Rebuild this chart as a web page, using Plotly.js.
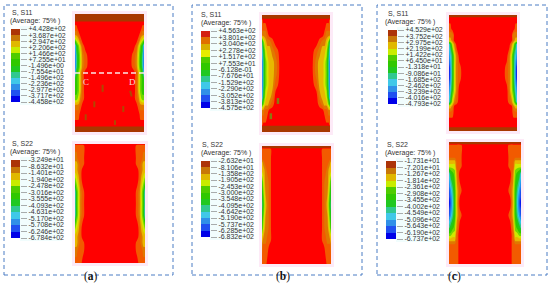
<!DOCTYPE html>
<html><head><meta charset="utf-8">
<script src="https://cdn.plot.ly/plotly-3.0.1.min.js"></script>
<style>html,body{margin:0;padding:0;background:#fff}#c{width:550px;height:292px}</style>
</head><body><div id="c"></div>
<script>
// half-width column positions (edge to interior); fields are read as symmetric about mid-width
const xHalf=[0,.02,.05,.08,.11,.15,.2,.27];

// band index per grid node: 0 deep blue ... 12 red, 13 brown
const aS11Y=[0,.055,.07,.12,.17,.22,.27,.35,.45,.5,.55,.65,.72,.78,.85,.945,.96,1];
const aS11Z=[
[13,13,13,13,13,13,13,13],[13,13,13,13,13,13,13,13],[12,12,12,12,12,12,12,12],
[11,11,12,12,12,12,12,12],[10,10,11,12,12,12,12,12],[7,8,9,11,12,12,12,12],
[2,5,7,9,11,12,12,12],[1,4,6,8,10,11,12,12],[1,4,6,8,10,11,12,12],
[2,5,7,9,11,12,12,12],[5,6,7,9,11,12,12,12],[6,6,7,9,11,12,12,12],
[7,7,8,10,11,12,12,12],[10,10,10,11,12,12,12,12],[11,11,11,12,12,12,12,12],
[12,12,12,12,12,12,12,12],[13,13,13,13,13,13,13,13],[13,13,13,13,13,13,13,13]];

const aS22Y=[0,.012,.12,.17,.22,.3,.4,.5,.6,.7,.78,.83,.9,1];
const aS22Z=[
[12,12,12,12,12,12,12,12],[11,11,11,11,11,12,12,12],[10,10,11,11,11,12,12,12],
[9,9,10,11,11,12,12,12],[9,9,10,11,12,12,12,12],[7,8,9,11,12,12,12,12],
[3,6,8,10,11,12,12,12],[3,6,8,10,11,12,12,12],[3,6,8,10,11,12,12,12],
[7,8,9,11,12,12,12,12],[9,9,10,11,12,12,12,12],[9,9,10,11,11,12,12,12],
[10,10,11,11,11,12,12,12],[11,11,11,11,12,12,12,12]];

const bS11Y=[0,.025,.04,.1,.17,.23,.3,.4,.5,.6,.7,.76,.82,.9,.94,.955,1];
const bS11Z=[
[13,13,13,13,13,13,13,13],[13,13,13,13,13,13,13,13],[11,12,12,12,12,12,12,12],
[11,11,11,12,12,12,12,12],[10,10,10,11,12,12,12,12],[4,7,9,10,10,11,12,12],
[3,5,8,9,9,10,11,12],[1,4,7,8,9,9,10,12],[1,4,7,8,9,9,10,12],
[1,4,7,8,9,9,11,12],[2,5,8,9,9,10,12,12],[5,7,9,9,10,11,12,12],
[10,10,11,11,12,12,12,12],[11,11,11,12,12,12,12,12],[11,12,12,12,12,12,12,12],
[13,13,13,13,13,13,13,13],[13,13,13,13,13,13,13,13]];

const bS22Y=[0,.012,.025,.1,.14,.2,.3,.5,.7,.8,.86,1];
const bS22Z=[
[13,13,13,13,13,13,13,13],[13,13,13,13,13,13,13,13],[11,11,11,11,11,12,12,12],
[11,11,11,11,11,12,12,12],[9,10,11,11,11,12,12,12],[9,9,10,11,11,12,12,12],
[6,8,10,10,11,12,12,12],[4,6,9,10,11,12,12,12],[6,8,10,10,11,12,12,12],
[9,10,10,11,11,12,12,12],[10,11,11,11,12,12,12,12],[11,11,11,12,12,12,12,12]];

const cS11Y=[0,.012,.025,.12,.17,.22,.25,.35,.45,.55,.65,.75,.79,.85,.92,.96,.975,1];
const cS11Z=[
[13,13,13,13,13,13,13,13],[13,13,13,13,13,13,13,13],[12,12,12,12,12,12,12,12],
[11,11,12,12,12,12,12,12],[10,10,10,12,12,12,12,12],[9,9,10,12,12,12,12,12],
[3,5,8,10,12,12,12,12],[2,3,5,8,10,12,12,12],[0,2,5,8,10,11,12,12],
[0,2,5,8,10,11,12,12],[2,3,6,8,10,12,12,12],[3,5,8,10,11,12,12,12],
[9,9,10,12,12,12,12,12],[11,11,11,12,12,12,12,12],[12,12,12,12,12,12,12,12],
[12,12,12,12,12,12,12,12],[13,13,13,13,13,13,13,13],[13,13,13,13,13,13,13,13]];

const cS22Y=[0,.012,.025,.12,.16,.2,.26,.4,.5,.6,.7,.76,.8,.85,1];
const cS22Z=[
[13,13,13,13,13,13,13,13],[13,13,13,13,13,13,13,13],[11,11,11,11,11,11,12,12],
[11,11,11,11,11,11,12,12],[9,9,9,9,11,11,12,12],[8,8,8,8,11,11,12,12],
[3,5,6,7,10,12,12,12],[1,2,4,6,9,11,12,12],[0,1,3,6,9,12,12,12],
[1,2,4,6,9,11,12,12],[4,5,6,7,10,12,12,12],[7,7,8,8,11,12,12,12],
[9,9,9,9,11,12,12,12],[11,11,11,11,11,12,12,12],[11,11,11,11,11,12,12,12]];

// legend labels, top to bottom
const aS11Labels=["+4.428e+02","+3.687e+02","+2.947e+02","+2.206e+02","+1.466e+02","+7.255e+01","-1.496e+00","-7.554e+01","-1.496e+02","-2.236e+02","-2.977e+02","-3.717e+02","-4.458e+02"];
const aS22Labels=["-3.249e+01","-8.632e+01","-1.401e+02","-1.940e+02","-2.478e+02","-3.016e+02","-3.555e+02","-4.093e+02","-4.631e+02","-5.170e+02","-5.708e+02","-6.246e+02","-6.784e+02"];
const bS11Labels=["+4.563e+02","+3.801e+02","+3.040e+02","+2.278e+02","+1.517e+02","+7.553e+01","-6.128e-01","-7.676e+01","-1.529e+02","-2.290e+02","-3.052e+02","-3.813e+02","-4.575e+02"];
const bS22Labels=["-2.632e+01","-8.106e+01","-1.358e+02","-1.905e+02","-2.453e+02","-3.000e+02","-3.548e+02","-4.095e+02","-4.642e+02","-5.190e+02","-5.737e+02","-6.285e+02","-6.832e+02"];
const cS11Labels=["+4.529e+02","+3.752e+02","+2.975e+02","+2.199e+02","+1.422e+02","+6.450e+01","-1.318e+01","-9.086e+01","-1.685e+02","-2.462e+02","-3.239e+02","-4.016e+02","-4.793e+02"];
const cS22Labels=["-1.731e+01","-7.201e+01","-1.267e+02","-1.814e+02","-2.361e+02","-2.908e+02","-3.455e+02","-4.002e+02","-4.549e+02","-5.096e+02","-5.643e+02","-6.190e+02","-6.737e+02"];

const fieldColors=['#0000f0','#1a50f0','#2090f0','#30c8e8','#30c890','#20c820','#30c800','#70d800','#d0e800','#e8b800','#e07800','#f25a00','#ff0000','#a83800'];
const legendColors=['#0000e8','#2050f0','#3090e8','#40c8e8','#30c890','#20c820','#30c800','#50cc00','#c8ec00','#e0b800','#c87808','#ac3408'];
const legendColorsB=['#0000e8','#2050f0','#3090e8','#40c8e8','#30c890','#20c820','#30c800','#50cc00','#e8ec00','#d8b000','#e07000','#d42010'];

// marks inside the fields
const sectionX=[0,1], sectionY=[.5,.5];
const aStreakX=[.40,.40,null,.28,.28,null,.155,.155,null,.70,.70,null,.80,.82,null,.58,.58];
const aStreakY=[.60,.66,null,.74,.79,null,.85,.90,null,.78,.83,null,.65,.70,null,.90,.94];
const bStreakX=[.235,.235,null,.13,.13];
const bStreakY=[.71,.76,null,.84,.89];

function stepScale(cols){const n=cols.length,o=[];cols.forEach((c,i)=>{o.push([i/n,c]);o.push([(i+1)/n,c]);});return o;}

const W=550,H=292;
const panels=[
 {y:aS11Y,z:aS11Z,box:[75,144,14,132],lab:aS11Labels,cols:legendColors,leg:[11,20,29,102],t:[11,13],a:[9,21],name:'S, S11'},
 {y:aS22Y,z:aS22Z,box:[75,145,144,263],lab:aS22Labels,cols:legendColors,leg:[11,20,160,238],t:[11,143.5],a:[9,152],name:'S, S22'},
 {y:bS11Y,z:bS11Z,box:[262,330,15,132],lab:bS11Labels,cols:legendColorsB,leg:[201,210,31,108],t:[200,14.5],a:[200,23],name:'S, S11'},
 {y:bS22Y,z:bS22Z,box:[262,331,146,264],lab:bS22Labels,cols:legendColors,leg:[201,210,161,237],t:[201,144],a:[200,153],name:'S, S22'},
 {y:cS11Y,z:cS11Z,box:[449,517,15,131],lab:cS11Labels,cols:legendColors,leg:[388,397,30,104],t:[387,14],a:[384,22],name:'S, S11'},
 {y:cS22Y,z:cS22Z,box:[449,521,142,264],lab:cS22Labels,cols:legendColors,leg:[386,396,161,239],t:[386,144],a:[384,153],name:'S, S22'}
];
const xFull=xHalf.concat(xHalf.slice().reverse().map(v=>1-v));
const data=[],layout={width:W,height:H,margin:{l:0,r:0,t:0,b:0},paper_bgcolor:'#fff',plot_bgcolor:'rgba(0,0,0,0)',showlegend:false,shapes:[],annotations:[],
  font:{family:'Liberation Sans, Arial, sans-serif',color:'#333'}};
const dx=p=>[p[0]/W,p[1]/W], dy=p=>[1-p[1]/H,1-p[0]/H];
const hide={visible:false,fixedrange:true};
let n=1;
panels.forEach(p=>{
  const fx=n; n++;
  const lx=n; n++;
  const sfx=fx===1?'':fx, sl=lx;
  data.push({type:'contour',x:xFull,y:p.y,z:p.z.map(r=>r.concat(r.slice().reverse())),zmin:-.5,zmax:13.5,autocontour:false,
    contours:{start:.5,end:12.5,size:1,coloring:'fill',showlines:false},line:{width:0,smoothing:1},
    colorscale:stepScale(fieldColors),showscale:false,hoverinfo:'skip',xaxis:'x'+sfx,yaxis:'y'+sfx});
  layout['xaxis'+sfx]=Object.assign({},hide,{domain:dx([p.box[0],p.box[1]]),range:[0,1],anchor:'y'+sfx});
  layout['yaxis'+sfx]=Object.assign({},hide,{domain:dy([p.box[2],p.box[3]]),range:[1,0],anchor:'x'+sfx});
  data.push({type:'heatmap',x:[0,1],y:[0,1,2,3,4,5,6,7,8,9,10,11,12],z:[[0],[1],[2],[3],[4],[5],[6],[7],[8],[9],[10],[11]],zmin:0,zmax:12,
    colorscale:stepScale(p.cols),showscale:false,hoverinfo:'skip',xaxis:'x'+sl,yaxis:'y'+sl});
  layout['xaxis'+sl]=Object.assign({},hide,{domain:dx([p.leg[0],p.leg[1]]),range:[0,1],anchor:'y'+sl});
  layout['yaxis'+sl]={fixedrange:true,domain:dy([p.leg[2],p.leg[3]]),range:[0,12],anchor:'x'+sl,side:'right',showgrid:false,zeroline:false,showline:false,
    tickmode:'array',tickvals:[12,11,10,9,8,7,6,5,4,3,2,1,0],ticktext:p.lab,ticks:'outside',ticklen:6,tickwidth:.6,tickcolor:'#777',
    tickfont:{size:7,family:'Liberation Sans, Arial, sans-serif',color:'#333'}};
  layout.annotations.push({xref:'paper',yref:'paper',x:p.t[0]/W,y:1-p.t[1]/H,xanchor:'left',yanchor:'middle',text:p.name,showarrow:false,borderpad:0,font:{size:7,color:'#333'}});
  layout.annotations.push({xref:'paper',yref:'paper',x:p.a[0]/W,y:1-p.a[1]/H,xanchor:'left',yanchor:'middle',text:'(Average: 75% )',showarrow:false,borderpad:0,font:{size:7,color:'#333'}});
  // pale halo behind each field
  layout.shapes.push({type:'rect',xref:'paper',yref:'paper',layer:'below',x0:(p.box[0]-3)/W,x1:(p.box[1]+3)/W,y0:1-(p.box[3]+3)/H,y1:1-(p.box[2]-3)/H,fillcolor:'#fdeaf7',line:{width:0}});
  layout.shapes.push({type:'rect',xref:'paper',yref:'paper',layer:'below',x0:(p.leg[1])/W,x1:(p.leg[1]+42)/W,y0:1-(p.leg[3]+3)/H,y1:1-(p.leg[2]-3)/H,fillcolor:'#f1fdfd',line:{width:0}});
});
// streaks and the section line
data.push({type:'scatter',mode:'lines',x:aStreakX,y:aStreakY,line:{color:'#b04800',width:2},hoverinfo:'skip',connectgaps:false,xaxis:'x',yaxis:'y'});
data.push({type:'scatter',mode:'lines',x:bStreakX,y:bStreakY,line:{color:'#8a7a10',width:2.5},hoverinfo:'skip',connectgaps:false,xaxis:'x5',yaxis:'y5'});
data.push({type:'scatter',mode:'lines',x:sectionX,y:sectionY,line:{color:'#fbe6e6',width:1.6,dash:'5px,3px'},hoverinfo:'skip',xaxis:'x',yaxis:'y'});
layout.annotations.push({xref:'x',yref:'y',x:.16,y:.575,text:'C',showarrow:false,font:{size:9,family:'Liberation Serif',color:'#fbd8d8'}});
layout.annotations.push({xref:'x',yref:'y',x:.83,y:.575,text:'D',showarrow:false,font:{size:9,family:'Liberation Serif',color:'#fbd8d8'}});

// dashed panel frames
[[4,173],[192,362],[377,547]].forEach(b=>{
  layout.shapes.push({type:'rect',xref:'paper',yref:'paper',layer:'above',x0:b[0]/W,x1:b[1]/W,y0:1-275/H,y1:1-5/H,line:{color:'#4a7cc4',width:1,dash:'4px,3px'},fillcolor:'rgba(0,0,0,0)'});
});
// panel letters
[[82,'a'],[283,'b'],[463,'c']].forEach(l=>{
  layout.annotations.push({xref:'paper',yref:'paper',x:l[0]/W,y:1-284.5/H,text:'(<b>'+l[1]+'</b>)',showarrow:false,font:{size:11.5,family:'Liberation Serif',color:'#111'}});
});
Plotly.newPlot('c',data,layout,{displayModeBar:false,staticPlot:true});
</script></body></html>
